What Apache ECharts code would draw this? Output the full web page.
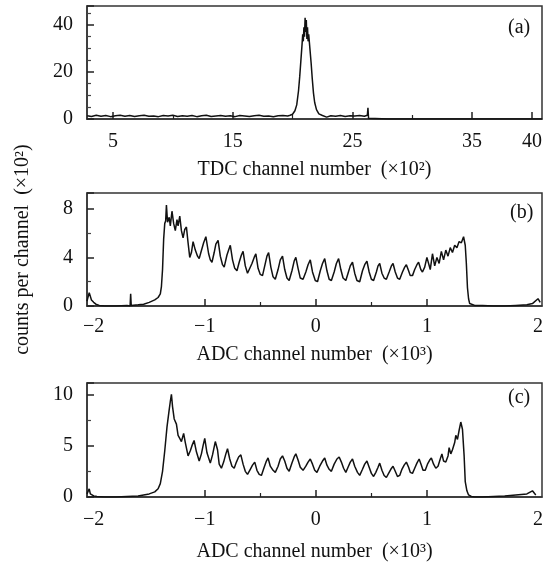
<!DOCTYPE html>
<html><head><meta charset="utf-8">
<script src="https://cdn.jsdelivr.net/npm/echarts@6/dist/echarts.min.js"></script>
<style>html,body{margin:0;padding:0;background:#fff}#c{width:553px;height:565px}</style>
</head><body><div id="c"></div>
<script>
// ---- Panel (a): TDC spectrum (x in 10^2 channels, y in 10^2 counts)
var xa = [2.85,3.2,3.6,4.0,4.4,4.8,5.2,5.6,6.0,6.4,6.8,7.2,7.6,8.0,8.4,8.8,9.2,9.6,10.0,10.4,10.8,11.2,11.6,12.0,12.4,12.8,13.2,13.6,14.0,14.4,14.8,15.2,15.6,16.0,16.4,16.8,17.2,17.6,18.0,18.4,18.8,19.2,19.6,19.8,20.0,20.2,20.35,20.5,20.6,20.7,20.8,20.85,20.9,20.95,21.0,21.05,21.1,21.15,21.2,21.25,21.3,21.35,21.45,21.55,21.65,21.75,21.85,22.0,22.2,22.5,22.85,23.2,23.6,24.0,24.4,24.8,25.2,25.6,26.0,26.25,26.3,26.35,26.5,28,32,36,40.84];
var ya = [1.4,1.1,1.6,1.2,1.5,1.0,1.4,1.6,1.2,1.5,1.1,1.4,1.6,1.2,1.3,1.0,1.5,1.3,1.6,1.1,1.4,1.2,1.5,1.0,1.4,1.6,1.1,1.3,1.5,1.2,1.4,1.0,1.5,1.3,1.1,1.4,1.6,1.2,1.3,1.0,1.4,1.5,1.3,1.6,2.0,3.5,6,12,18,25,32,36,33,39,35,43,37,42,34,39,33,36,30,24,17,11,7,4,2.2,1.5,0.8,1.4,1.2,1.5,1.1,1.4,1.3,1.5,1.2,1.6,4.8,0.3,0,0,0,0,0];
var xaLabels = [5,15,25,35,40];
var xaTicksMajor = [5,15,25,35,40];
var xaTicksMinor = [10,20,30];

// ---- Panel (b): ADC spectrum (x in 10^3 channels, y in 10^2 counts)
var xb = [-2.06,-2.04,-2.02,-2.0,-1.98,-1.95,-1.9,-1.8,-1.7,-1.672,-1.667,-1.662,-1.6,-1.55,-1.5,-1.45,-1.42,-1.4,-1.39,-1.38,-1.37,-1.36,-1.352,-1.345,-1.335,-1.32,-1.31,-1.295,-1.28,-1.265,-1.25,-1.24,-1.225,-1.21,-1.195,-1.18,-1.165,-1.15,-1.135,-1.12,-1.105,-1.085,-1.065,-1.05,-1.035,-1.01,-0.99,-0.965,-0.95,-0.935,-0.915,-0.9,-0.88,-0.86,-0.84,-0.825,-0.8,-0.785,-0.77,-0.75,-0.73,-0.71,-0.69,-0.67,-0.655,-0.635,-0.615,-0.6,-0.575,-0.555,-0.54,-0.52,-0.5,-0.48,-0.46,-0.44,-0.425,-0.405,-0.385,-0.365,-0.34,-0.32,-0.30,-0.28,-0.26,-0.24,-0.215,-0.195,-0.18,-0.16,-0.14,-0.115,-0.09,-0.07,-0.05,-0.03,-0.005,0.015,0.04,0.06,0.08,0.1,0.12,0.14,0.165,0.185,0.205,0.225,0.245,0.27,0.29,0.31,0.33,0.35,0.37,0.395,0.42,0.44,0.46,0.48,0.5,0.52,0.545,0.56,0.575,0.595,0.615,0.635,0.66,0.68,0.695,0.715,0.735,0.755,0.78,0.8,0.815,0.835,0.85,0.87,0.89,0.91,0.925,0.945,0.96,0.98,1.0,1.03,1.05,1.07,1.09,1.11,1.13,1.15,1.17,1.19,1.21,1.23,1.25,1.27,1.29,1.31,1.33,1.345,1.355,1.365,1.375,1.385,1.4,1.43,1.5,1.6,1.7,1.8,1.9,1.95,2.0,2.02,2.036];
var yb = [0.4,1.1,0.5,0.3,0.15,0.05,0.0,0.0,0.05,0.0,1.0,0.05,0.1,0.15,0.3,0.5,0.7,1.0,1.6,3.0,5.5,6.8,7.0,8.3,6.9,7.3,6.6,7.8,6.8,6.2,7.1,6.6,7.4,6.2,5.6,6.3,6.5,5.2,4.0,4.4,5.3,4.6,4.1,3.9,4.4,5.2,5.7,4.3,3.8,3.6,4.4,5.1,5.4,4.1,3.4,3.2,4.2,4.6,5.0,3.8,3.1,2.9,3.6,4.2,4.5,3.3,2.7,2.6,3.5,4.0,4.3,3.1,2.6,2.5,3.3,4.1,4.4,3.2,2.4,2.2,3.0,3.8,4.1,3.0,2.3,2.1,2.9,3.7,4.0,3.1,2.3,2.2,2.8,3.4,3.8,2.8,2.1,2.0,2.9,3.5,3.9,2.9,2.2,2.1,2.8,3.5,3.9,3.0,2.3,2.1,2.7,3.3,3.6,2.7,2.1,2.0,2.9,3.4,3.7,2.8,2.2,2.1,2.8,3.3,3.5,2.7,2.3,2.2,2.8,3.3,3.5,2.8,2.3,2.2,2.8,3.2,3.4,2.9,2.5,2.5,3.0,3.4,3.6,3.0,2.8,3.2,4.0,3.0,4.3,3.3,4.0,3.5,4.5,3.8,4.6,4.1,4.8,4.4,5.0,4.8,5.3,5.2,5.7,5.0,3.5,1.5,0.6,0.2,0.1,0.05,0.05,0.0,0.0,0.05,0.1,0.2,0.6,0.3];

// ---- Panel (c): ADC spectrum (x in 10^3 channels, y in 10^2 counts)
var xc = [-2.06,-2.04,-2.03,-2.02,-2.0,-1.97,-1.9,-1.8,-1.7,-1.6,-1.55,-1.5,-1.45,-1.42,-1.4,-1.38,-1.36,-1.34,-1.32,-1.31,-1.30,-1.29,-1.275,-1.255,-1.24,-1.225,-1.21,-1.19,-1.175,-1.15,-1.13,-1.115,-1.096,-1.075,-1.05,-1.03,-1.015,-1.0,-0.98,-0.95,-0.93,-0.905,-0.885,-0.87,-0.85,-0.83,-0.81,-0.795,-0.775,-0.755,-0.735,-0.715,-0.695,-0.675,-0.655,-0.635,-0.615,-0.59,-0.57,-0.55,-0.53,-0.51,-0.49,-0.465,-0.445,-0.43,-0.41,-0.385,-0.365,-0.34,-0.32,-0.30,-0.28,-0.26,-0.24,-0.215,-0.195,-0.18,-0.16,-0.14,-0.115,-0.09,-0.07,-0.05,-0.03,-0.01,0.01,0.035,0.06,0.08,0.1,0.12,0.14,0.165,0.19,0.21,0.23,0.25,0.27,0.29,0.31,0.33,0.35,0.375,0.395,0.42,0.44,0.46,0.48,0.5,0.52,0.54,0.56,0.575,0.595,0.615,0.635,0.655,0.675,0.695,0.715,0.735,0.755,0.775,0.795,0.815,0.835,0.85,0.87,0.89,0.91,0.93,0.95,0.965,0.985,1.005,1.025,1.04,1.06,1.08,1.1,1.12,1.135,1.15,1.17,1.19,1.2,1.215,1.23,1.25,1.26,1.275,1.29,1.305,1.32,1.335,1.345,1.36,1.375,1.385,1.4,1.43,1.5,1.6,1.7,1.8,1.9,1.95,1.98,2.0,2.02,2.036];
var yc = [0.3,0.8,0.3,0.2,0.1,0.05,0.0,0.0,0.05,0.1,0.2,0.3,0.5,0.8,1.3,2.5,4.5,6.8,8.5,9.3,10.0,8.8,7.6,7.1,6.0,5.7,5.4,6.2,5.3,4.0,4.5,5.0,5.5,4.4,3.5,4.2,5.0,5.7,4.3,3.3,4.1,5.4,4.6,3.2,2.8,3.4,4.2,4.7,3.7,3.0,2.8,3.4,3.9,4.1,3.2,2.5,2.2,2.7,3.1,3.4,2.6,2.2,2.1,2.9,3.5,3.8,3.0,2.6,2.4,3.0,3.7,4.0,3.5,2.8,2.5,3.3,3.9,4.2,3.6,2.9,2.6,3.0,3.4,3.7,3.2,2.6,2.4,3.0,3.5,3.8,3.1,2.7,2.5,3.2,3.7,3.9,3.4,2.8,2.4,2.9,3.4,3.7,3.0,2.4,2.1,2.7,3.2,3.5,2.9,2.3,2.0,2.4,2.9,3.3,2.6,2.1,1.9,2.3,2.7,3.0,2.5,2.0,2.1,2.7,3.1,3.4,2.9,2.4,2.3,2.8,3.3,3.7,3.1,2.6,2.6,3.2,3.6,3.8,3.2,2.8,3.0,3.7,4.2,3.5,3.4,4.0,4.8,4.2,4.6,5.3,6.0,5.6,6.5,7.3,6.6,4.0,1.5,0.6,0.2,0.1,0.05,0.0,0.0,0.05,0.1,0.2,0.3,0.6,0.2];

var xbLabels = [-2,-1,0,1,2];
var xbTicksMajor = [-1,0,1];
var xbTicksMinor = [-0.5,0.5];

function zip(xs, ys){ var d=[]; for (var i=0;i<xs.length;i++) d.push([xs[i], ys[i]]); return d; }

var FONT = 'Liberation Serif';
var FS = 20;
var INK = '#111';

function grid(top, h){ return {left:87, width:455, top:top, height:h, show:true, borderColor:'#333', borderWidth:1.5, backgroundColor:'transparent'}; }

function xAxisMain(gi, min, max, labels, ticks, name, gap, margin, fmt){
  return {type:'value', gridIndex:gi, min:min, max:max, position:'bottom',
    axisLine:{show:true, onZero:false, lineStyle:{color:'#333', width:1.5}},
    axisTick:{show:true, inside:true, length:7, lineStyle:{color:'#222', width:1.5}, customValues:ticks},
    axisLabel:{show:true, customValues:labels, margin:margin, color:INK, fontFamily:FONT, fontSize:FS, formatter:fmt},
    splitLine:{show:false},
    name:name, nameLocation:'middle', nameGap:gap, nameTextStyle:{color:INK, fontFamily:FONT, fontSize:FS}};
}
function xAxisMinor(gi, min, max, ticks){
  return {type:'value', gridIndex:gi, min:min, max:max, position:'bottom',
    axisLine:{show:false, onZero:false}, axisTick:{show:true, inside:true, length:4, lineStyle:{color:'#222', width:1.2}, customValues:ticks},
    axisLabel:{show:false}, splitLine:{show:false}};
}
function yAxis(gi, max, interval, minorSplit, name){
  var a = {type:'value', gridIndex:gi, min:0, max:max, interval:interval, position:'left',
    axisLine:{show:true, onZero:false, lineStyle:{color:'#333', width:1.5}},
    axisTick:{show:true, inside:true, length:7, lineStyle:{color:'#222', width:1.5}},
    minorTick:{show:true, splitNumber:minorSplit, length:4, lineStyle:{color:'#444', width:1.2}},
    axisLabel:{show:true, margin:14, color:INK, fontFamily:FONT, fontSize:FS, showMaxLabel:false},
    splitLine:{show:false}};
  if (name) { a.name = name; a.nameLocation = 'middle'; a.nameGap = 54; a.nameTextStyle = {color:INK, fontFamily:FONT, fontSize:FS}; }
  return a;
}
var minusFmt = function(v){ return v < 0 ? '\u2212' + Math.abs(v) : String(v); };

var option = {
  animation:false,
  backgroundColor:'#fff',
  grid:[grid(6,113), grid(193,113), grid(383,114)],
  xAxis:[
    xAxisMain(0, 2.83, 40.84, xaLabels, xaTicksMajor, 'TDC channel number  (\u00d710\u00b2)', 41, 13, function(v){return String(v);}),
    xAxisMain(1, -2.06, 2.036, xbLabels, xbTicksMajor, 'ADC channel number  (\u00d710\u00b3)', 39, 11, minusFmt),
    xAxisMain(2, -2.06, 2.036, xbLabels, xbTicksMajor, 'ADC channel number  (\u00d710\u00b3)', 45, 13, minusFmt),
    xAxisMinor(0, 2.83, 40.84, xaTicksMinor),
    xAxisMinor(1, -2.06, 2.036, xbTicksMinor),
    xAxisMinor(2, -2.06, 2.036, xbTicksMinor)
  ],
  yAxis:[
    yAxis(0, 48, 20, 4),
    yAxis(1, 9.3, 4, 2, 'counts per channel  (\u00d710\u00b2)'),
    yAxis(2, 11.1, 5, 2)
  ],
  series:[
    {type:'line', xAxisIndex:0, yAxisIndex:0, data:zip(xa,ya), showSymbol:false, lineStyle:{color:INK, width:1.5}, silent:true},
    {type:'line', xAxisIndex:1, yAxisIndex:1, data:zip(xb,yb), showSymbol:false, lineStyle:{color:INK, width:1.5}, silent:true},
    {type:'line', xAxisIndex:2, yAxisIndex:2, data:zip(xc,yc), showSymbol:false, lineStyle:{color:INK, width:1.5}, silent:true}
  ],
  graphic:[
    {type:'text', left:508, top:18, style:{text:'(a)', font:FS+'px "'+FONT+'"', fill:INK}},
    {type:'text', left:510, top:203, style:{text:'(b)', font:FS+'px "'+FONT+'"', fill:INK}},
    {type:'text', left:508, top:388, style:{text:'(c)', font:FS+'px "'+FONT+'"', fill:INK}}
  ]
};
var chart = echarts.init(document.getElementById('c'), null, {renderer:'canvas'});
chart.setOption(option);
</script>
</body></html>
